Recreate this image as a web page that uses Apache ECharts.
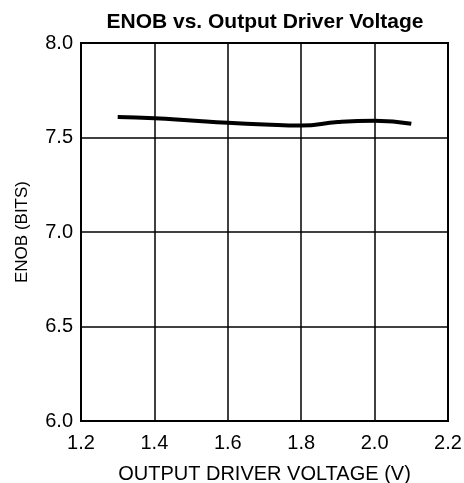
<!DOCTYPE html>
<html><head><meta charset="utf-8">
<script src="https://cdn.jsdelivr.net/npm/echarts@6/dist/echarts.min.js"></script>
<style>html,body{margin:0;padding:0;background:#fff}#c{width:464px;height:483px}</style>
</head><body><div id="c"></div>
<script>
var voltage = [1.3, 1.4, 1.5, 1.6, 1.7, 1.8, 1.9, 2.0, 2.1];
var enob = [7.608, 7.602, 7.590, 7.578, 7.569, 7.563, 7.582, 7.589, 7.573];
var xTicks = [1.2, 1.4, 1.6, 1.8, 2.0, 2.2];
var yTicks = [6.0, 6.5, 7.0, 7.5, 8.0];
var font = 'Liberation Sans, Arial, sans-serif';
var chart = echarts.init(document.getElementById('c'), null, {renderer:'canvas'});
chart.setOption({
  animation:false,
  title:{text:'ENOB vs. Output Driver Voltage', left:260, top:7, textAlign:'center',
    textStyle:{fontFamily:font, fontSize:21, fontWeight:'bold', color:'#000'}},
  grid:{left:81, right:16, top:43, bottom:62, containLabel:false, outerBoundsMode:'none'},
  xAxis:{type:'value', min:1.2, max:2.2, interval:0.2,
    name:'OUTPUT DRIVER VOLTAGE (V)', nameLocation:'middle', nameGap:43,
    nameTextStyle:{fontFamily:font, fontSize:20, color:'#000'},
    axisLine:{show:false},
    axisTick:{show:false},
    axisLabel:{fontFamily:font, fontSize:20, color:'#000', margin:12,
      formatter:function(v){return v.toFixed(1);}},
    splitLine:{show:true, lineStyle:{color:'#000', width:1.5}}
  },
  yAxis:{type:'value', min:6.0, max:8.0, interval:0.5,
    name:'ENOB (BITS)', nameLocation:'middle', nameGap:50,
    nameTextStyle:{fontFamily:font, fontSize:17, color:'#000'},
    axisLine:{show:false},
    axisTick:{show:false},
    axisLabel:{fontFamily:font, fontSize:20, color:'#000', margin:8,
      formatter:function(v){return v.toFixed(1);}},
    splitLine:{show:true, lineStyle:{color:'#000', width:1.5}}
  },
  series:[{type:'line', data:voltage.map(function(x,i){return [x, enob[i]];}),
    smooth:true, showSymbol:false, lineStyle:{color:'#000', width:4}}]
});
chart.setOption({graphic:[{type:'rect', shape:{x:81,y:43,width:367,height:378},
  style:{fill:'none', stroke:'#000', lineWidth:2}, silent:true}]});
</script></body></html>
